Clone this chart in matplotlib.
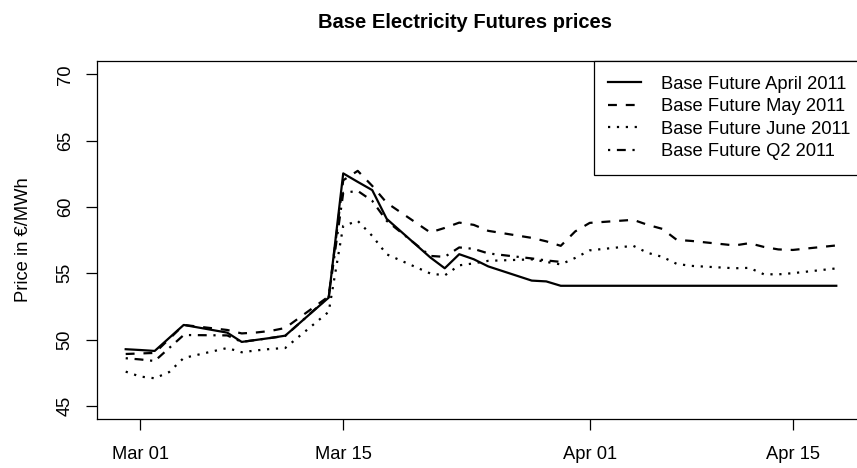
import matplotlib
matplotlib.use("Agg")
import matplotlib.pyplot as plt
import matplotlib.dates as mdates
import numpy as np

# trading days
dates = ["2011-02-28", "2011-03-01", "2011-03-02", "2011-03-03", "2011-03-04",
         "2011-03-07", "2011-03-08", "2011-03-09", "2011-03-10", "2011-03-11",
         "2011-03-14", "2011-03-15", "2011-03-16", "2011-03-17", "2011-03-18",
         "2011-03-21", "2011-03-22", "2011-03-23", "2011-03-24", "2011-03-25",
         "2011-03-28", "2011-03-29", "2011-03-30", "2011-03-31", "2011-04-01",
         "2011-04-04", "2011-04-05", "2011-04-06", "2011-04-07", "2011-04-08",
         "2011-04-11", "2011-04-12", "2011-04-13", "2011-04-14", "2011-04-15",
         "2011-04-18"]

april = [49.28, 49.22, 49.15, 50.13, 51.11,
         50.53, 49.83, 49.98, 50.13, 50.30,
         53.17, 62.53, 61.89, 61.27, 59.10,
         56.20, 55.38, 56.44, 56.06, 55.52,
         54.45, 54.39, 54.06, 54.06, 54.06,
         54.06, 54.06, 54.06, 54.06, 54.06,
         54.06, 54.06, 54.06, 54.06, 54.06,
         54.06]

may = [48.92, 48.96, 49.00, 50.05, 51.11,
       50.73, 50.47, 50.54, 50.66, 50.88,
       53.26, 62.01, 62.72, 61.59, 60.31,
       58.08, 58.42, 58.82, 58.65, 58.20,
       57.67, 57.41, 57.07, 58.16, 58.80,
       59.03, 58.65, 58.35, 57.52, 57.44,
       57.10, 57.27, 56.99, 56.80, 56.76,
       57.10]

june = [47.59, 47.22, 47.09, 47.56, 48.62,
        49.37, 49.05, 49.19, 49.30, 49.37,
        52.10, 58.57, 58.95, 57.82, 56.43,
        54.99, 54.84, 55.60, 55.75, 55.94,
        56.05, 55.86, 55.67, 56.16, 56.73,
        57.07, 56.54, 56.24, 55.71, 55.56,
        55.38, 55.41, 54.93, 54.92, 55.01,
        55.37]

nan = np.nan
q2 = [48.60, 48.51, 48.39, 49.37, 50.35,
      50.32, 49.83, 49.98, 50.13, 50.28,
      53.22, 61.06, 61.21, 60.46, 58.95,
      56.31, 56.24, 56.95, 56.84, 56.50,
      56.12, 55.97, 55.86, nan, nan,
      nan, nan, nan, nan, nan,
      nan, nan, nan, nan, nan,
      nan]

labels = ["Base Future April 2011", "Base Future May 2011",
          "Base Future June 2011", "Base Future Q2 2011"]
xticks = ["2011-03-01", "2011-03-15", "2011-04-01", "2011-04-15"]

plt.rcParams['font.family'] = ['Liberation Sans', 'DejaVu Sans']

d = np.array(dates, dtype='datetime64[D]')

fig = plt.figure(figsize=(8.57, 4.68), dpi=100)
# the plot region runs past the right edge of the picture
ax = fig.add_axes([0.1135, 0.1041, 0.8955, 0.7656])

lw = 1.6
ax.plot(d, april, color='black', lw=lw, ls='-', solid_joinstyle='round', label=labels[0])
ax.plot(d, may, color='black', lw=lw, ls=(0, (4, 4)), label=labels[1])
ax.plot(d, june, color='black', lw=lw, ls=(0, (1, 3)), label=labels[2])
ax.plot(d, q2, color='black', lw=lw, ls=(0, (1, 3, 4, 3)), label=labels[3])

x0 = mdates.date2num(d[0])
x1 = mdates.date2num(d[-1])
pad = 0.04 * (x1 - x0)
ax.set_xlim(x0 - pad, x1 + pad)
ax.set_ylim(44, 71)

ax.set_xticks(np.array(xticks, dtype='datetime64[D]'))
ax.xaxis.set_major_formatter(mdates.DateFormatter('%b %d'))
ax.set_yticks([45, 50, 55, 60, 65, 70])

ax.tick_params(axis='both', direction='out', length=8, width=0.9,
               labelsize=13.2, color='black')
ax.tick_params(axis='x', pad=11.5)
ax.tick_params(axis='y', pad=9)
plt.setp(ax.get_yticklabels(), rotation=90, va='center')

for s in ax.spines.values():
    s.set_linewidth(0.9)

leg = ax.legend(loc='upper right', bbox_to_anchor=(1, 1), borderaxespad=0,
                frameon=True, fancybox=False, edgecolor='black', framealpha=1,
                fontsize=13.2, handlelength=1.75, handletextpad=1.1,
                borderpad=0.8, labelspacing=0.3)
leg.get_frame().set_linewidth(0.9)

fig.text(465 / 857, 1 - 22 / 468, "Base Electricity Futures prices",
         ha='center', va='center', fontsize=14.5, fontweight='bold')
fig.text(24 / 857, 1 - 240 / 468, "Price in €/MWh", rotation=90,
         ha='center', va='center', fontsize=13.2)

fig.savefig("out.png", dpi=100)
